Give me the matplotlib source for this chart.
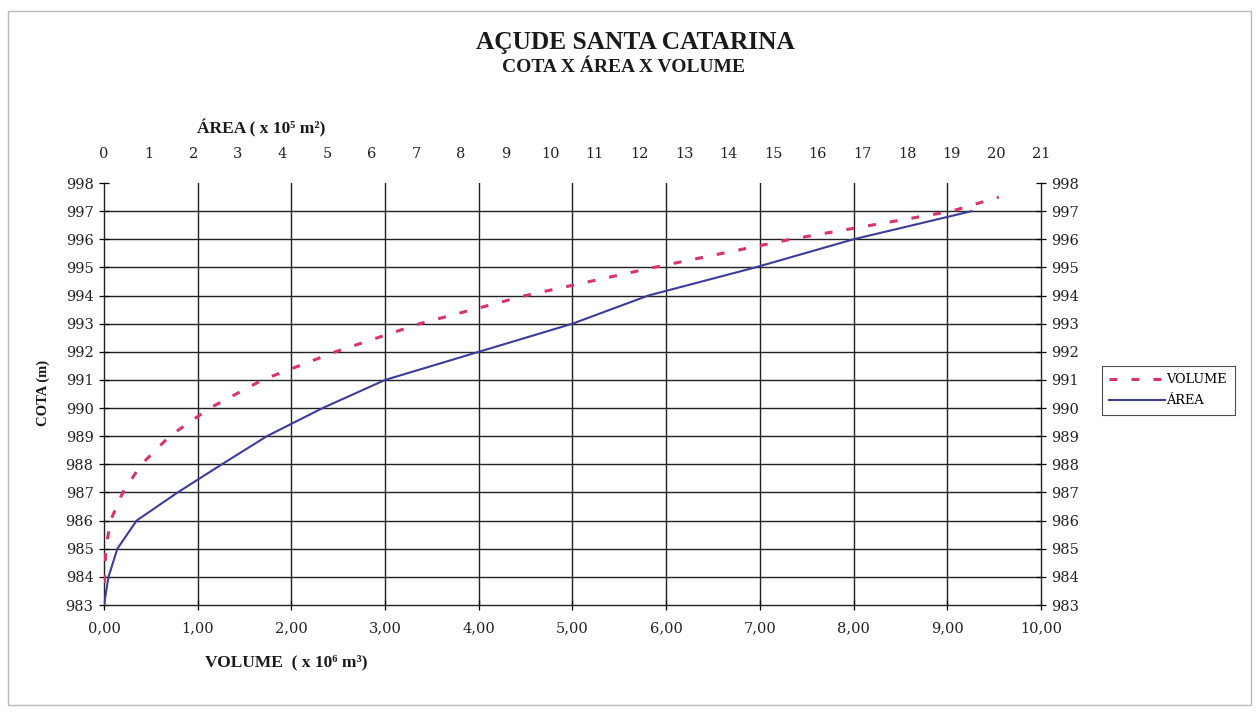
import matplotlib.pyplot as plt
from matplotlib.patches import Rectangle

# Data
cota = [983, 984, 985, 986, 987, 988, 989, 990, 991, 992, 993, 994, 995, 996, 997]
area = [0.0, 0.1, 0.3, 0.73, 1.65, 2.64, 3.65, 4.9, 6.3, 8.4, 10.5, 12.2, 14.6, 16.8, 19.45]  # x 10^5 m2

cota_vol = [983, 984, 985, 986, 987, 988, 989, 990, 991, 992, 993, 994, 995, 996, 997, 997.5]
volume = [0.0, 0.005, 0.02, 0.07, 0.20, 0.40, 0.70, 1.13, 1.69, 2.47, 3.37, 4.50, 5.87, 7.33, 9.05, 9.55]  # x 10^6 m3

vol_ticks = [0, 1, 2, 3, 4, 5, 6, 7, 8, 9, 10]
vol_labels = ['0,00', '1,00', '2,00', '3,00', '4,00', '5,00', '6,00', '7,00', '8,00', '9,00', '10,00']
area_ticks = list(range(0, 22))
cota_ticks = list(range(983, 999))

serif = ['Liberation Serif', 'DejaVu Serif']
tickfont = ['DejaVu Serif', 'Liberation Serif']

fig = plt.figure(figsize=(12.59, 7.16), dpi=100)
ax = fig.add_axes([0.0826, 0.155, 0.7442, 0.5894])

vol_line, = ax.plot(volume, cota_vol, color='#d8336b', lw=2.2, dashes=(2.6, 4.6), label='VOLUME', zorder=3)
ax.set_xlim(0, 10)
ax.set_ylim(983, 998)
ax.set_xticks(vol_ticks)
ax.set_xticklabels(vol_labels)
ax.set_yticks(cota_ticks)

# gridlines (no line at 998)
for y in cota_ticks[1:-1]:
    ax.axhline(y, color='#222222', lw=1.0, zorder=1)
for x in vol_ticks[1:-1]:
    ax.axvline(x, color='#222222', lw=1.0, zorder=1)

ax.spines['top'].set_visible(False)
for s in ['left', 'right', 'bottom']:
    ax.spines[s].set_color('#222222')
    ax.spines[s].set_linewidth(1.0)

ax.yaxis.set_ticks_position('both')
ax.tick_params(axis='y', direction='inout', length=7, width=0.9, labelright=True,
               labelsize=10.5, pad=4, labelcolor='#222222')
ax.tick_params(axis='x', direction='inout', length=7, width=0.9, labelsize=10.5, pad=8,
               labelcolor='#222222')
for lab in ax.get_xticklabels() + ax.yaxis.get_ticklabels(which='both'):
    lab.set_family(tickfont)

# area on the secondary (top) axis
ax2 = ax.twiny()
area_line, = ax2.plot(area, cota, color='#3c3c99', lw=1.5, label='ÁREA', zorder=3)
ax2.set_xlim(0, 21)
ax2.set_xticks(area_ticks)
ax2.tick_params(axis='x', length=0, labelsize=10.5, pad=16, labelcolor='#222222')
for lab in ax2.get_xticklabels():
    lab.set_family(tickfont)
for s in ax2.spines.values():
    s.set_visible(False)

# titles
fig.text(635 / 1259, 1 - 42 / 716, 'AÇUDE SANTA CATARINA', ha='center', va='center',
         fontsize=18.3, fontweight='bold', family=serif, color='#1a1a1a')
fig.text(624 / 1259, 1 - 68 / 716, 'COTA X ÁREA X VOLUME', ha='center', va='center',
         fontsize=14, fontweight='bold', family=serif, color='#1a1a1a')
fig.text(197 / 1259, 1 - 128 / 716, 'ÁREA ( x 10⁵ m²)', ha='left', va='center',
         fontsize=12.5, fontweight='bold', family=serif, color='#1a1a1a')
fig.text(205 / 1259, 1 - 662 / 716, 'VOLUME  ( x 10⁶ m³)', ha='left', va='center',
         fontsize=12.5, fontweight='bold', family=serif, color='#1a1a1a')
fig.text(43 / 1259, 1 - 393 / 716, 'COTA (m)', ha='center', va='center', rotation=90,
         fontsize=10.5, fontweight='bold', family=serif, color='#1a1a1a')

leg = fig.legend(handles=[vol_line, area_line], loc='center left',
                 bbox_to_anchor=(0.875, 0.455), frameon=True, fancybox=False,
                 edgecolor='#222222', handlelength=4.3, borderpad=0.6,
                 labelspacing=0.6, handletextpad=0.1, borderaxespad=0,
                 prop={'family': tickfont, 'size': 9.3})
leg.get_frame().set_linewidth(0.8)

# outer frame
fig.patches.append(Rectangle((0.006, 0.015), 0.988, 0.97, transform=fig.transFigure,
                             fill=False, edgecolor='#bbbbbb', lw=1.0))

fig.savefig('out.png', dpi=100)
